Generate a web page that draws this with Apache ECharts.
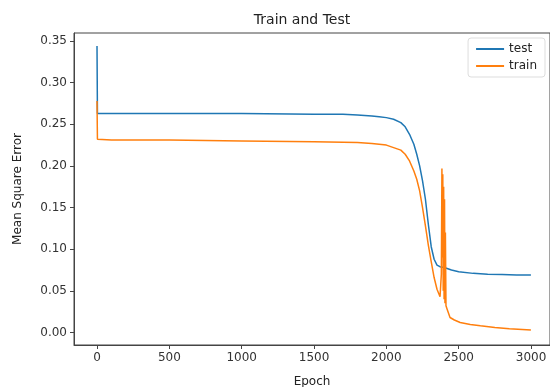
<!DOCTYPE html>
<html>
<head>
<meta charset="utf-8">
<script src="https://cdn.jsdelivr.net/npm/echarts@6/dist/echarts.min.js"></script>
<style>
    html, body { margin: 0; padding: 0; background: #fff; }
    #main { width: 550px; height: 387px; }
</style>
</head>
<body>
<div id="main"></div>
<script>
// 数据
var xTicks = [0, 500, 1000, 1500, 2000, 2500, 3000]
var yTicks = [0, 0.05, 0.10, 0.15, 0.20, 0.25, 0.30, 0.35]

var testEpochs = [0, 3, 100, 500, 1000, 1500, 1700, 1800, 1900, 1950, 2000, 2050, 2100, 2130, 2160, 2190, 2210, 2230, 2250, 2270, 2290, 2310, 2330, 2350, 2370, 2400, 2450, 2500, 2600, 2700, 2800, 2900, 2999]
var testLoss = [0.344, 0.263, 0.263, 0.263, 0.263, 0.262, 0.262, 0.261, 0.260, 0.259, 0.258, 0.256, 0.252, 0.247, 0.238, 0.226, 0.214, 0.200, 0.182, 0.160, 0.130, 0.103, 0.088, 0.081, 0.079, 0.078, 0.075, 0.073, 0.071, 0.070, 0.0695, 0.069, 0.069]

var trainEpochs = [0, 3, 100, 500, 1000, 1500, 1800, 1900, 2000, 2050, 2100, 2130, 2160, 2190, 2210, 2230, 2250, 2270, 2290, 2310, 2330, 2350, 2371, 2380, 2384, 2387, 2390, 2393, 2396, 2399, 2402, 2405, 2408, 2412, 2420, 2440, 2470, 2510, 2580, 2650, 2750, 2850, 2999]
var trainLoss = [0.278, 0.232, 0.231, 0.231, 0.230, 0.229, 0.228, 0.227, 0.225, 0.222, 0.219, 0.214, 0.206, 0.194, 0.184, 0.170, 0.150, 0.128, 0.105, 0.085, 0.066, 0.052, 0.043, 0.070, 0.197, 0.090, 0.190, 0.050, 0.175, 0.040, 0.160, 0.035, 0.120, 0.032, 0.028, 0.018, 0.015, 0.012, 0.0095, 0.008, 0.006, 0.0045, 0.003]

function pairs(xs, ys) {
    return xs.map(function(x, i) { return [x, ys[i]] })
}

(function() {
    var myChart = echarts.init(document.getElementById('main'))
    var font = 'DejaVu Sans'
    var axisColor = '#444'
    var option = {
        animation: false,
        backgroundColor: '#fff',
        title: {
            text: 'Train and Test',
            left: 297,
            top: 8,
            textAlign: 'center',
            textStyle: { fontFamily: font, fontSize: 14, fontWeight: 'normal', color: '#222' }
        },
        legend: {
            orient: 'vertical',
            right: 5,
            top: 38,
            icon: 'rect',
            itemWidth: 28,
            itemHeight: 2,
            itemGap: 5,
            padding: [5, 8, 5, 8],
            borderColor: '#ddd',
            borderWidth: 1,
            borderRadius: 3,
            textStyle: { fontFamily: font, fontSize: 12, color: '#222' },
            data: ['test', 'train']
        },
        grid: {
            left: 74,
            right: 0,
            top: 33,
            bottom: 42,
            outerBoundsMode: 'none',
            show: true,
            borderColor: axisColor,
            borderWidth: 1
        },
        xAxis: {
            type: 'value',
            min: -159,
            max: 3131,
            name: 'Epoch',
            nameLocation: 'middle',
            nameGap: 31,
            nameTextStyle: { fontFamily: font, fontSize: 12, color: '#222' },
            axisLine: { onZero: false, lineStyle: { color: axisColor } },
            axisTick: { customValues: xTicks, length: 4, lineStyle: { color: axisColor } },
            axisLabel: {
                customValues: xTicks,
                fontFamily: font,
                fontSize: 12,
                color: '#333',
                margin: 7,
                formatter: function(v) { return String(v) }
            },
            splitLine: { show: false }
        },
        yAxis: {
            type: 'value',
            min: -0.015,
            max: 0.3596,
            name: 'Mean Square Error',
            nameLocation: 'middle',
            nameGap: 50,
            nameTextStyle: { fontFamily: font, fontSize: 12, color: '#222' },
            axisLine: { show: true, onZero: false, lineStyle: { color: axisColor } },
            axisTick: { show: true, customValues: yTicks, length: 4, lineStyle: { color: axisColor } },
            axisLabel: {
                customValues: yTicks,
                fontFamily: font,
                fontSize: 12,
                color: '#333',
                margin: 7,
                formatter: function(v) { return v.toFixed(2) }
            },
            splitLine: { show: false }
        },
        series: [{
            name: 'test',
            type: 'line',
            symbol: 'none',
            color: '#1f77b4',
            lineStyle: { width: 1.5 },
            data: pairs(testEpochs, testLoss)
        }, {
            name: 'train',
            type: 'line',
            symbol: 'none',
            color: '#ff7f0e',
            lineStyle: { width: 1.5 },
            data: pairs(trainEpochs, trainLoss)
        }]
    }
    myChart.setOption(option)
})();
</script>
</body>
</html>
